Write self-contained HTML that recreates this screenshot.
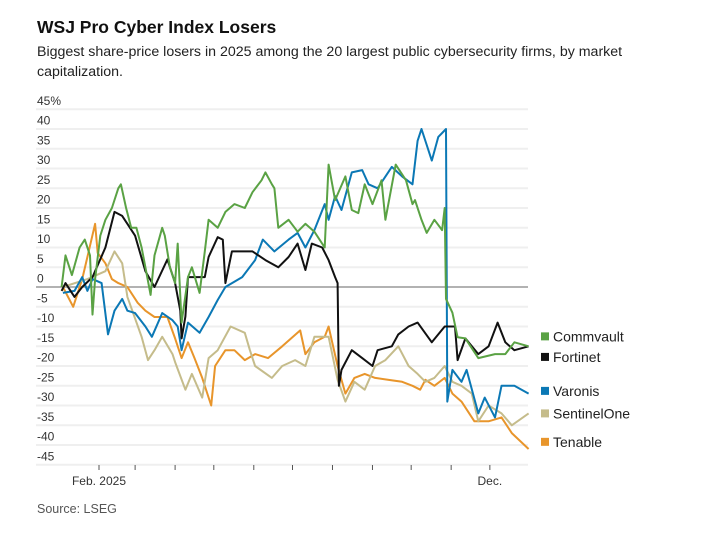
<!DOCTYPE html>
<html><head><meta charset="utf-8"><style>
body{margin:0;background:#fff;font-family:"Liberation Sans",sans-serif;}
#wrap{position:relative;width:706px;height:535px;overflow:hidden;}
.t{position:absolute;left:37px;top:17px;font-size:17.5px;font-weight:bold;color:#111;}
.s{position:absolute;left:37px;top:42px;width:640px;font-size:14.2px;line-height:20px;color:#222;}
.src{position:absolute;left:37px;top:502px;font-size:12.5px;color:#555;}
</style></head><body>
<div id="wrap">
<div class="t">WSJ Pro Cyber Index Losers</div>
<div class="s">Biggest share-price losers in 2025 among the 20 largest public cybersecurity firms, by market capitalization.</div>
<svg id="chart" width="706" height="535" style="position:absolute;left:0;top:0"></svg>
<div class="src">Source: LSEG</div>
</div>
<script>
const yTicks=[45,40,35,30,25,20,15,10,5,0,-5,-10,-15,-20,-25,-30,-35,-40,-45];
const monthTickDays=[31,59,90,120,151,181,212,243,273,304,334];
const monthLabels=["Feb. 2025","","","","","","","","","","Dec."];
const seriesNames=["Tenable","SentinelOne","Varonis","Fortinet","Commvault"];
const seriesColors=["#e8952b","#c5bc8b","#0b78b5","#111111","#5aa244"];
const tenableDays=[3,11,18,22,28,30,36,41,46,53,61,67,74,84,90,95,100,105,111,118,121,129,136,144,152,162,173,187,191,198,206,209,216,222,229,237,245,255,266,274,280,284,291,299,305,312,322,333,343,351,364];
const tenableVals=[0,-5,2,7.6,16,8.6,6,2,1,0,-4,-6,-7.6,-7.6,-13,-18,-14,-18,-23,-30,-20,-16,-16,-18.5,-17,-18,-15,-11,-17,-14,-12.6,-10,-20,-27,-23,-22,-23,-23.5,-24,-25,-26,-23.5,-25,-23,-27,-29,-34,-34,-33,-37,-41];
const sentinelDays=[3,22,36,43,49,53,59,64,69,74,80,88,90,98,103,111,116,123,133,144,148,152,165,173,183,191,198,209,216,222,229,237,245,253,263,271,278,284,291,299,305,312,320,325,333,343,351,364];
const sentinelVals=[0,2,4,9,6,-2.5,-8,-12.6,-18.5,-16,-12.6,-17,-19,-26,-22,-28,-18,-16,-10,-11.6,-16,-20,-23,-20,-18.5,-20,-12.6,-12.6,-23.5,-29,-24,-26,-20,-18.5,-15,-20,-22,-24,-23,-20,-24,-25,-27,-34,-30,-32,-35,-32];
const varonisDays=[3,12,18,22,26,33,38,43,49,53,59,67,72,80,88,92,95,100,109,116,123,129,142,152,158,167,178,185,191,198,206,209,214,219,227,235,240,247,258,266,274,278,281,289,294,300,301,305,312,316,325,330,338,343,353,364];
const varonisVals=[-1.5,-1,2.5,-1,2,1,-12,-6,-3,-6,-6.6,-10,-12.6,-6.6,-8.4,-10,-16,-9,-11.6,-7.6,-3.3,0,2.5,6.8,12,9,12,13.7,10,14.4,21,17,23,19.5,29,29.6,26,25,30.4,28,26,37,40,32,38,40,-29,-21,-24,-21,-32,-28,-33,-25,-25,-27];
const fortinetDays=[2,5,12,18,26,36,43,49,59,67,74,84,90,94,95,98,100,113,116,123,127,129,134,142,150,160,170,178,185,191,196,204,209,214,216,217,219,227,235,243,247,258,263,271,278,289,299,307,309,315,325,333,340,346,353,364];
const fortinetVals=[-1,1,-2.5,0,2.5,10,19,18,13,4,0,7,1,-6,-13,-7.5,2.5,2.5,7.6,12.6,12,1,9,9,9,6.8,5,7.6,11,4.3,11,10,6.8,2.5,1,-25,-21,-16,-18,-20,-16,-15,-12,-10,-9,-14,-10,-10,-18.5,-13,-17,-15,-9,-14,-16,-15];
const commvaultDays=[2,5,10,16,20,24,26,28,32,36,41,46,48,52,56,60,64,67,71,74,80,82,86,90,92,95,100,103,109,113,116,123,129,136,144,150,157,160,165,167,170,178,185,191,198,206,209,214,222,227,232,237,243,250,253,261,269,274,276,281,285,291,297,299,300,305,309,315,325,338,346,353,364];
const commvaultVals=[0,8,3,10,12,8,-7,2,13,17,20,25,26,20,15,15,10,5,-2,8,15,13,5,1,11,-9,2.5,5,-1.5,9,17,15,19,21,20,24,27,29,26,25,15,17,14,16,14,10,31,22,28,19.5,18.7,26,21,27,17,31,27,21,22,17,13.7,17,14.4,20,-3,-6.5,-12.7,-13,-18,-17,-17,-14,-15];
const allDays=[tenableDays,sentinelDays,varonisDays,fortinetDays,commvaultDays];
const allVals=[tenableVals,sentinelVals,varonisVals,fortinetVals,commvaultVals];
const legendOrder=["Commvault","Fortinet","Varonis","SentinelOne","Tenable"];
const legendValueAnchors=[-12.5,-17.7,-26.3,-32,-39.2];

const svg=document.getElementById('chart');
const NS='http://www.w3.org/2000/svg';
const X0=59,XD=1.29,Y0=287,YK=3.95;
function xs(d){return X0+d*XD;}
function ys(v){return Y0-v*YK;}
function mk(t,a){const e=document.createElementNS(NS,t);for(const k in a)e.setAttribute(k,a[k]);svg.appendChild(e);return e;}
yTicks.forEach(v=>{
  const l=mk('line',{x1:36,x2:528,y1:ys(v),y2:ys(v),stroke:v===0?'#999':'#efefef','stroke-width':v===0?1.6:2});
  
  
  const t=mk('text',{x:37,y:ys(v)-4.5,'font-size':12,fill:'#333','font-family':'Liberation Sans, sans-serif'});
  t.textContent=v===45?'45%':String(v);
  
  
});
monthTickDays.forEach((d,i)=>{
  const l=mk('line',{x1:xs(d),x2:xs(d),y1:465,y2:470,stroke:'#555','stroke-width':1});
  
  
  if(monthLabels[i]){
    const t=mk('text',{x:xs(d),y:485,'font-size':12,fill:'#333','text-anchor':'middle','font-family':'Liberation Sans, sans-serif'});
    t.textContent=monthLabels[i];
    
    
  }
});
seriesNames.forEach((n,i)=>{
  const pts=allDays[i].map((d,j)=>xs(d).toFixed(1)+','+ys(allVals[i][j]).toFixed(1)).join(' ');
  const p=mk('polyline',{points:pts,fill:'none',stroke:seriesColors[i],'stroke-width':2,'stroke-linejoin':'round'});
  
  
});
legendOrder.forEach((n,i)=>{
  const c=seriesColors[seriesNames.indexOf(n)];
  const y=ys(legendValueAnchors[i]);
  const r=mk('rect',{x:541,y:y-4,width:8,height:8,fill:c});
  
  
  const t=mk('text',{x:553,y:y+5,'font-size':14,fill:'#222','font-family':'Liberation Sans, sans-serif'});
  t.textContent=n;
  
  
});
</script>
</body></html>
